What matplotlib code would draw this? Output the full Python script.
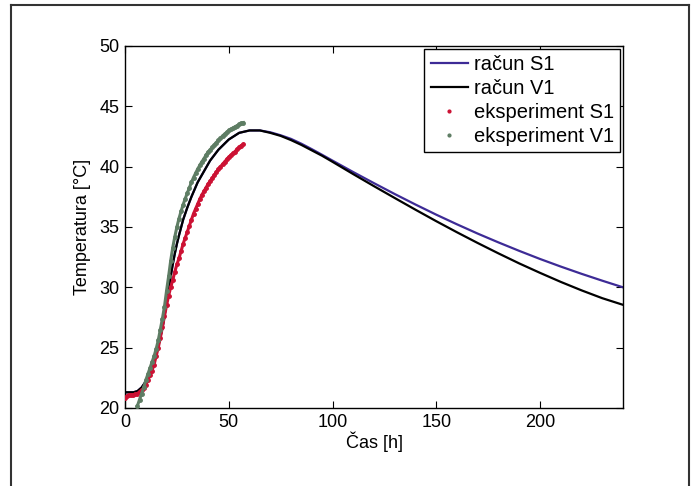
import matplotlib.pyplot as plt
from matplotlib.lines import Line2D

plt.rcParams['font.family'] = ['Liberation Sans', 'DejaVu Sans']

# izračun (račun) - čas [h] in temperatura [°C]
cas_racun = [0, 2, 4, 6, 8, 10, 12, 14, 16, 18, 19, 20, 21, 22, 23, 24, 25, 26, 28, 30, 32,
             35, 38, 41, 45, 50, 55, 60, 65, 70, 75, 80, 85, 90, 95, 100, 110, 120, 130,
             140, 150, 160, 170, 180, 190, 200, 210, 220, 230, 240]
temp_V1 = [21.3, 21.3, 21.3, 21.4, 21.7, 22.2, 22.9, 23.9, 25.1, 26.6, 27.6, 28.7, 29.8,
           30.9, 31.9, 32.8, 33.6, 34.3, 35.6, 36.6, 37.5, 38.7, 39.6, 40.5, 41.4, 42.25,
           42.8, 43.0, 43.0, 42.8, 42.55, 42.2, 41.8, 41.35, 40.9, 40.4, 39.38, 38.38, 37.4,
           36.43, 35.48, 34.56, 33.67, 32.81, 31.98, 31.2, 30.45, 29.75, 29.1, 28.55]
temp_S1 = [21.3, 21.3, 21.3, 21.4, 21.7, 22.2, 22.9, 23.9, 25.1, 26.6, 27.6, 28.7, 29.8,
           30.9, 31.9, 32.8, 33.6, 34.3, 35.6, 36.6, 37.5, 38.7, 39.6, 40.5, 41.4, 42.25,
           42.8, 43.0, 43.0, 42.85, 42.6, 42.3, 41.9, 41.45, 40.98, 40.5, 39.55, 38.63, 37.73,
           36.86, 36.02, 35.22, 34.45, 33.72, 33.02, 32.35, 31.72, 31.12, 30.55, 30.0]

# eksperiment
cas_S1 = list(range(0, 58))
exp_S1 = [20.8, 21.0, 21.1, 21.1, 21.1, 21.15, 21.2, 21.35, 21.5, 21.65, 21.9, 22.3, 22.7,
          23.1, 23.6, 24.3, 25.0, 25.8, 26.7, 27.6, 28.5, 29.3, 30.0, 30.6, 31.3, 31.9,
          32.4, 33.0, 33.6, 34.1, 34.6, 35.1, 35.6, 36.1, 36.5, 36.9, 37.3, 37.65, 37.95,
          38.25, 38.55, 38.8, 39.05, 39.3, 39.55, 39.8, 40.0, 40.2, 40.4, 40.6, 40.8, 40.95,
          41.1, 41.25, 41.45, 41.6, 41.75, 41.85]
cas_V1 = list(range(6, 58))
exp_V1 = [20.2, 20.7, 21.2, 21.7, 22.3, 22.8, 23.3, 23.8, 24.3, 24.9, 25.6, 26.5, 27.4,
          28.4, 29.7, 30.9, 32.2, 33.3, 34.2, 35.0, 35.7, 36.3, 36.85, 37.35, 37.8, 38.25,
          38.7, 39.1, 39.45, 39.8, 40.1, 40.4, 40.65, 40.95, 41.2, 41.4, 41.6, 41.8, 42.0,
          42.2, 42.35, 42.55, 42.7, 42.85, 43.0, 43.1, 43.2, 43.3, 43.4, 43.5, 43.6, 43.65]

modra = '#3d2b96'
rdeca = '#cc1133'
zelena = '#5e7d64'

fig = plt.figure(figsize=(6.95, 4.86), dpi=100)
ax = fig.add_axes([0.1799, 0.1605, 0.7165, 0.7449])

# okvir okoli slike
okvir = dict(color='#333333', lw=1.5, transform=fig.transFigure, clip_on=False)
fig.add_artist(Line2D([0.0158, 0.0158], [-0.1, 0.9897], **okvir))
fig.add_artist(Line2D([0.0158, 0.9914], [0.9897, 0.9897], **okvir))
fig.add_artist(Line2D([0.9914, 0.9914], [-0.1, 0.9897], **okvir))

ax.plot(cas_racun, temp_S1, color=modra, lw=1.6, label='račun S1', zorder=2)
ax.plot(cas_racun, temp_V1, color='black', lw=1.6, label='račun V1', zorder=3)
ax.plot(cas_S1, exp_S1, '.', color=rdeca, ms=5, label='eksperiment S1', zorder=4)
ax.plot(cas_S1, exp_S1, '-', color=rdeca, lw=2.2, zorder=4)
ax.plot(cas_V1, exp_V1, '.', color=zelena, ms=5, label='eksperiment V1', zorder=4)
ax.plot(cas_V1, exp_V1, '-', color=zelena, lw=2.2, zorder=4)

ax.set_xlim(0, 240)
ax.set_ylim(20, 50)
ax.set_xticks([0, 50, 100, 150, 200])
ax.set_yticks([20, 25, 30, 35, 40, 45, 50])
ax.tick_params(direction='in', top=True, right=True, labelsize=13, length=5, pad=4)
for s in ax.spines.values():
    s.set_linewidth(1.0)

ax.set_xlabel('Čas [h]', fontsize=13, labelpad=1)
ax.set_ylabel('Temperatura [°C]', fontsize=13, labelpad=6)

leg = ax.legend(loc='upper right', bbox_to_anchor=(1, 1), borderaxespad=0.15,
                fontsize=14.5, fancybox=False, framealpha=1, edgecolor='black',
                handlelength=1.85, handletextpad=0.3, labelspacing=0.25, borderpad=0.3,
                markerscale=0.8)
leg.get_frame().set_linewidth(1.0)

fig.savefig('out.png', dpi=100)
